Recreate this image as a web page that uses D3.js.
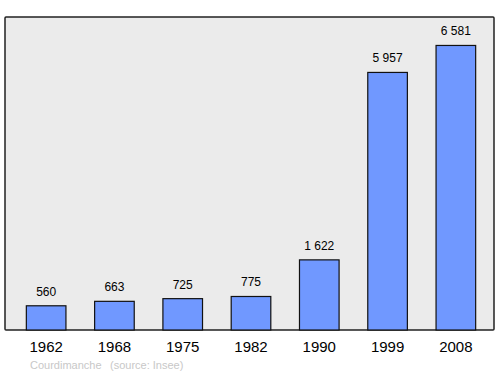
<!DOCTYPE html>
<meta charset="utf-8">
<style>
  body { margin: 0; background: #fff; }
  .frame { fill: #ebebeb; stroke: #222; stroke-width: 1.5px; }
  .bar { fill: #7098ff; stroke: #111; stroke-width: 1.2px; }
  .val { font: 12px "Liberation Sans", Arial, sans-serif; fill: #000; text-anchor: middle; }
  .year { font: 15px "Liberation Sans", Arial, sans-serif; fill: #000; text-anchor: middle; }
  .note { font: 11px "Liberation Sans", Arial, sans-serif; fill: #c8c8c8; }
</style>
<svg width="500" height="374"></svg>
<script src="https://d3js.org/d3.v7.min.js"></script>
<script>

    var years = ["1962", "1968", "1975", "1982", "1990", "1999", "2008"];
    var population = [560, 663, 725, 775, 1622, 5957, 6581];

    var svg = d3.select("svg"),
        top0 = 17, bottom0 = 330, left0 = 5, right0 = 494;

    var x = d3.scaleBand()
        .domain(years)
        .range([12, 490])
        .paddingInner(0.42)
        .paddingOuter(0.21);

    var y = d3.scaleLinear()
        .domain([0, d3.max(population) * 1.1])
        .range([bottom0, top0]);

    var fmt = function(v) { return d3.format(",")(v).replace(/,/g, " "); };

    svg.append("rect")
        .attr("class", "frame")
        .attr("x", left0).attr("y", top0)
        .attr("width", right0 - left0).attr("height", bottom0 - top0)
        .attr("rx", 1);

    var data = years.map(function(d, i) { return {year: d, value: population[i]}; });

    svg.selectAll(".bar")
        .data(data)
        .enter().append("rect")
        .attr("class", "bar")
        .attr("x", function(d) { return x(d.year); })
        .attr("y", function(d) { return y(d.value); })
        .attr("width", x.bandwidth())
        .attr("height", function(d) { return bottom0 - y(d.value); });

    svg.selectAll(".val")
        .data(data)
        .enter().append("text")
        .attr("class", "val")
        .attr("x", function(d) { return x(d.year) + x.bandwidth() / 2; })
        .attr("y", function(d) { return y(d.value) - 10; })
        .text(function(d) { return fmt(d.value); });

    svg.selectAll(".year")
        .data(data)
        .enter().append("text")
        .attr("class", "year")
        .attr("x", function(d) { return x(d.year) + x.bandwidth() / 2; })
        .attr("y", 352)
        .text(function(d) { return d.year; });

    svg.append("text")
        .attr("class", "note")
        .attr("x", 30).attr("y", 369)
        .text("Courdimanche");

    svg.append("text")
        .attr("class", "note")
        .attr("x", 110).attr("y", 369)
        .text("(source: Insee)");

</script>
